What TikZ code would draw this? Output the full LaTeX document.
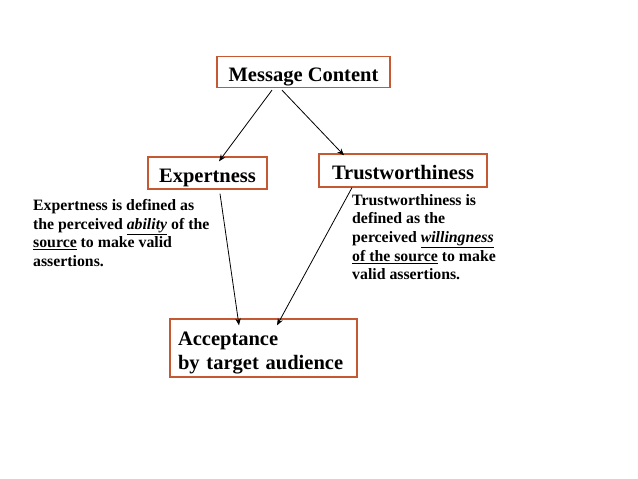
\documentclass[tikz,border=0pt]{standalone}
\usepackage{fontspec}
\setmainfont{Liberation Serif}
\usetikzlibrary{arrows.meta}
\definecolor{boxline}{RGB}{196,89,51}
\begin{document}
\begin{tikzpicture}[x=1pt,y=-1pt,
  titlebox/.style={draw=boxline,line width=1.3pt,inner sep=0pt,
    text height=18pt,text depth=0pt,
    font=\fontsize{20.5}{24}\selectfont\bfseries},
  emptybox/.style={draw=boxline,line width=1.3pt,inner sep=0pt},
  para/.style={inner sep=0pt,anchor=north west,align=left,
    font=\fontsize{15.8}{18.7}\selectfont\bfseries},
  arr/.style={line width=0.8pt,-{Stealth[length=7pt,width=5.5pt]}}]
\useasboundingbox (0,0) rectangle (638,479);
\node[titlebox,minimum width=173pt,minimum height=31pt] (mc) at (303.5,72) {Message Content};
\node[titlebox,minimum width=119pt,minimum height=32pt] (exp) at (207.5,173) {Expertness};
\node[titlebox,minimum width=168pt,minimum height=33pt] (tr) at (403,170.5) {Trustworthiness};
\node[emptybox,minimum width=187pt,minimum height=58pt] (acc) at (263.5,348) {};
\node[inner sep=0pt,text width=171pt,align=left,font=\fontsize{20.5}{24}\selectfont\bfseries] (acctext) at (263.5,353) {Acceptance\\by target audience};
\node[para] (ptext) at (33,199) {Expertness is defined as\\the perceived \underline{\textit{ability}} of the\\\underline{source} to make valid\\assertions.};
\node[para] (ttext) at (352,194) {Trustworthiness is\\defined as the\\perceived \underline{\textit{willingness}}\\\underline{of the source} to make\\valid assertions.};
\draw[arr] ([xshift=-31.5pt,yshift=-2pt]mc.south) -- ([xshift=11.5pt,yshift=-5pt]exp.north);
\draw[arr] ([xshift=-21.5pt,yshift=-2pt]mc.south) -- ([xshift=-59pt,yshift=-2pt]tr.north);
\draw[arr] ([xshift=12.5pt,yshift=-4pt]exp.south) -- ([xshift=-24.5pt,yshift=-7pt]acc.north);
\draw[arr] ([xshift=-51pt,yshift=0pt]tr.south) -- ([xshift=13.5pt,yshift=-7pt]acc.north);
\end{tikzpicture}
\end{document}
